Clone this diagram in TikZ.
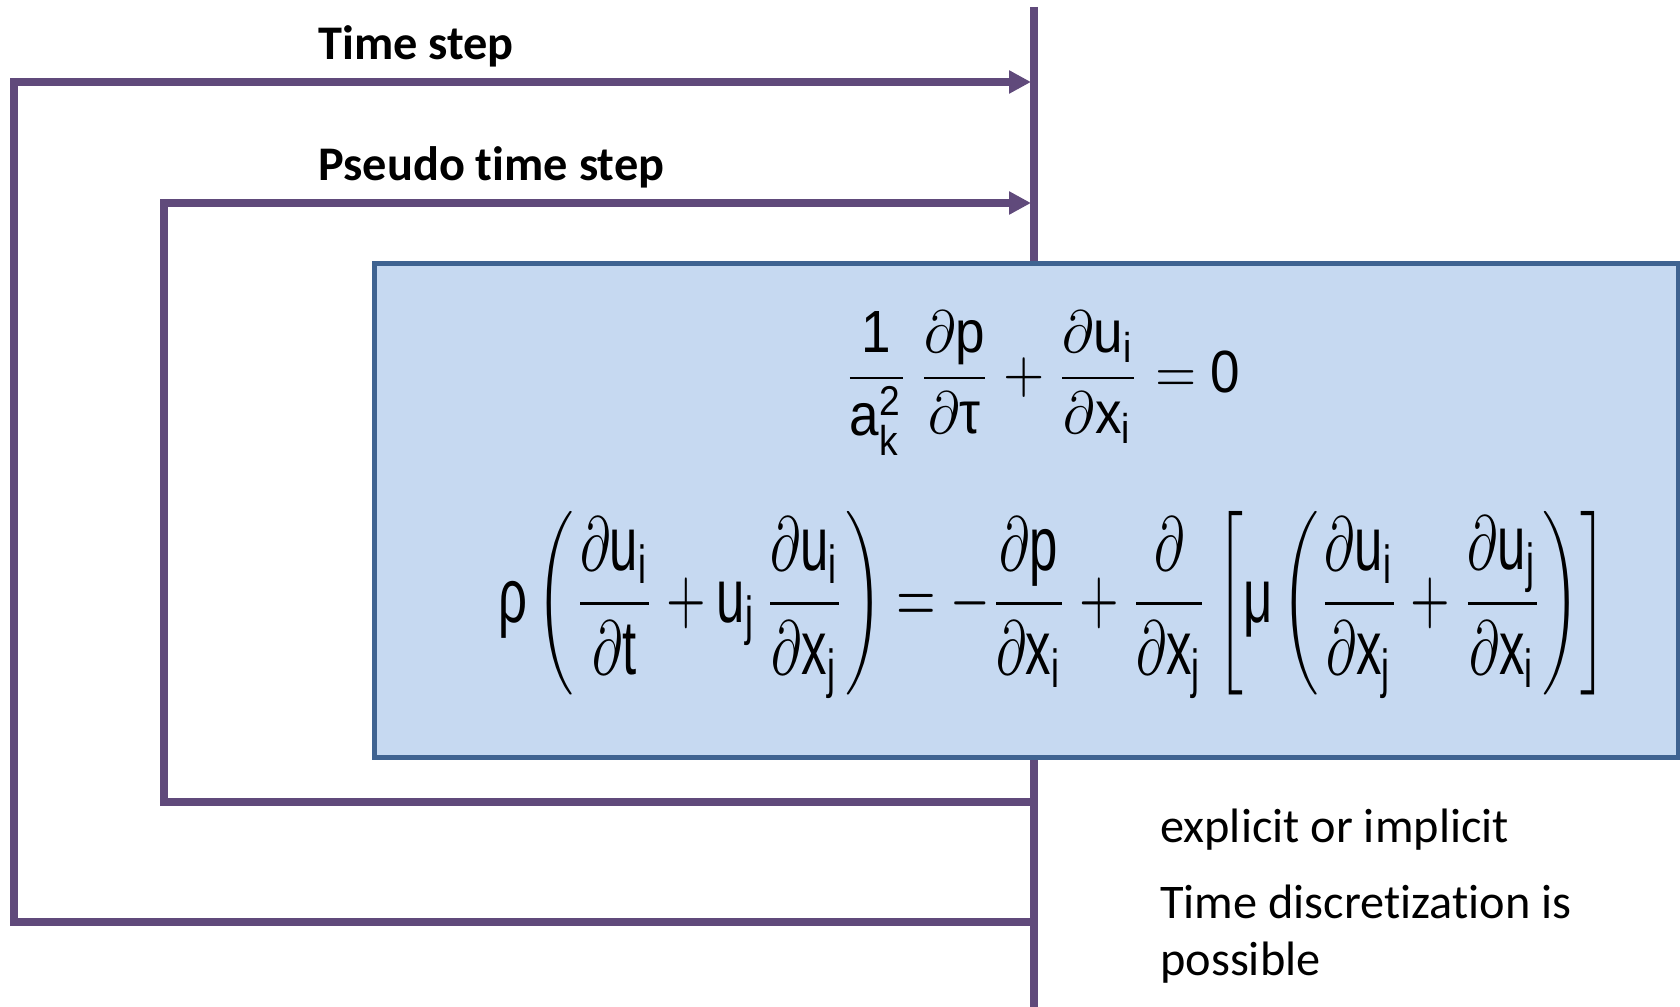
\documentclass[tikz,border=0pt]{standalone}
\usepackage{amsmath}
\usepackage{graphicx}
\usepackage{fontspec}
\setmainfont{Carlito}[Ligatures=NoCommon]
\newfontfamily\eqfont{Liberation Sans}
\usepackage{tikz}
\usetikzlibrary{arrows.meta}

\definecolor{loopc}{HTML}{604A7B}
\definecolor{boxfill}{HTML}{C6D9F1}
\definecolor{boxline}{HTML}{3F6391}
\newcommand{\ev}[1]{\text{\eqfont #1}}

\begin{document}
\begin{tikzpicture}[x=0.02cm,y=-0.02cm,
  loopline/.style={loopc,line width=4.3pt,line join=miter},
  looparrow/.style={loopline,-{Triangle[length=0.44cm,width=0.44cm]}},
  lbl/.style={anchor=base west,inner sep=0pt,font=\fontsize{27.5}{33}\selectfont},
  eq/.style={inner sep=0pt}]
\useasboundingbox (0,0) rectangle (1680,1007);

% main time axis
\coordinate (axtop) at (1034,7);
\coordinate (axbot) at (1034,1007);
\draw[loopline] (axtop) -- (axbot);

% outer loop: time step
\coordinate (tsin) at (1031,82);
\coordinate (tsout) at (1034,922);
\draw[looparrow] (tsout) -- (14,922) -- (14,82) -- (tsin);
\node[lbl,font=\fontsize{27.5}{33}\selectfont\bfseries] (ts) at (318,60) {Time step};

% inner loop: pseudo time step
\coordinate (psin) at (1031,203);
\coordinate (psout) at (1034,802);
\draw[looparrow] (psout) -- (164,802) -- (164,203) -- (psin);
\node[lbl,font=\fontsize{27.5}{33}\selectfont\bfseries] (ps) at (318,180) {Pseudo time step};

% equations
\filldraw[fill=boxfill,draw=boxline,line width=0.1cm] (374.5,263) rectangle (1678,757.5);
\node[eq] (cont) at (1042,383) {\resizebox*{7.94cm}{2.88cm}{$\displaystyle
  \frac{\ev{1}}{\ev{a}_{\ev{k}}^{\ev{2}}}\,\frac{\partial\ev{p}}{\partial\ev{τ}}
  +\frac{\partial\ev{u}_{\ev{i}}}{\partial\ev{x}_{\ev{i}}}=\ev{0}$}};
\node[eq] (mom) at (1053,605) {\resizebox*{22.16cm}{3.74cm}{$\displaystyle
  \ev{ρ}\left(\frac{\partial\ev{u}_{\ev{i}}}{\partial\ev{t}}
  +\ev{u}_{\ev{j}}\,\frac{\partial\ev{u}_{\ev{i}}}{\partial\ev{x}_{\ev{j}}}\right)
  =-\frac{\partial\ev{p}}{\partial\ev{x}_{\ev{i}}}
  +\frac{\partial}{\partial\ev{x}_{\ev{j}}}
  \left[\ev{μ}\left(\frac{\partial\ev{u}_{\ev{i}}}{\partial\ev{x}_{\ev{j}}}
  +\frac{\partial\ev{u}_{\ev{j}}}{\partial\ev{x}_{\ev{i}}}\right)\right]$}};

% notes
\node[lbl] (expl) at (1160,842) {explicit or implicit};
\node[lbl] (disc) at (1160,918) {Time discretization is};
\node[lbl] (poss) at (1160,975) {possible};
\end{tikzpicture}
\end{document}
